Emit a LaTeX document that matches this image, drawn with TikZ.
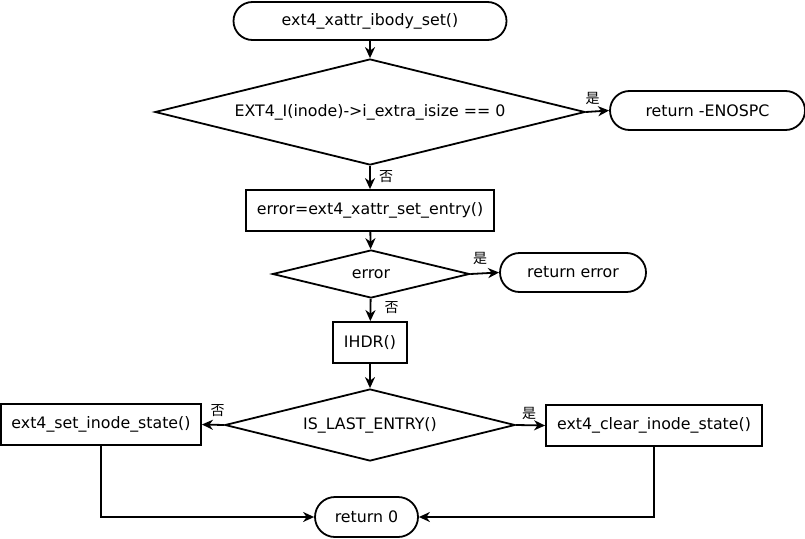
\documentclass[tikz,border=0pt]{standalone}
\usepackage{fontspec}
\setmainfont{DejaVu Sans}
\newfontfamily\cjk{Noto Sans CJK SC}
\usetikzlibrary{arrows.meta,shapes.geometric,shapes.misc}

\begin{document}
\begin{tikzpicture}[x=1pt,y=-1pt,>={Stealth[length=11pt,width=10pt,inset=3.5pt]},
    line width=1.8pt,font=\fontsize{15.8}{18}\selectfont,
    term/.style={draw,rounded rectangle,inner sep=0pt},
    proc/.style={draw,rectangle,inner sep=0pt},
    cond/.style={draw,diamond,aspect=4,inner sep=0pt},
    lbl/.style={inner sep=0pt,font=\cjk\fontsize{14}{16}\selectfont}]
    \useasboundingbox (0,0) rectangle (805,538);
    % main column
    \node[term,minimum width=273,minimum height=38] (start) at (370,21) {ext4\_xattr\_ibody\_set()};
    \node[cond,minimum width=430,minimum height=106] (isize) at (370,112) {EXT4\_I(inode)->i\_extra\_isize == 0};
    \node[term,minimum width=195,minimum height=39] (enospc) at (707.5,110.5) {return -ENOSPC};
    \node[proc,minimum width=248,minimum height=41] (setentry) at (370,210.5) {error=ext4\_xattr\_set\_entry()};
    \node[cond,minimum width=197,minimum height=48] (err) at (371,274) {error};
    \node[term,minimum width=146,minimum height=39] (reterr) at (573,272.5) {return error};
    \node[proc,minimum width=74,minimum height=41] (ihdr) at (370,342.5) {IHDR()};
    \node[cond,minimum width=290,minimum height=72] (last) at (370,425) {IS\_LAST\_ENTRY()};
    \node[proc,minimum width=200,minimum height=41] (setstate) at (101,424.5) {ext4\_set\_inode\_state()};
    \node[proc,minimum width=216,minimum height=41] (clrstate) at (654,425.5) {ext4\_clear\_inode\_state()};
    \node[term,minimum width=103,minimum height=40] (ret0) at (366.5,517) {return 0};
    % branch labels
    \node[lbl] (yes1) at (592.5,98) {是};
    \node[lbl] (no1) at (386,177) {否};
    \node[lbl] (yes2) at (480,258) {是};
    \node[lbl] (no2) at (391.5,308) {否};
    \node[lbl] (no3) at (217.5,411) {否};
    \node[lbl] (yes3) at (529,413) {是};
    % connectors
    \draw[->] (start) -- (isize);
    \draw[->] (isize.east) -- (enospc.west);
    \draw[->] (isize) -- (setentry);
    \draw[->] (setentry) -- (err);
    \draw[->] (err.east) -- (reterr.west);
    \draw[->] (err) -- (ihdr);
    \draw[->] (ihdr) -- (last);
    \draw[->] (last.west) -- (setstate.east);
    \draw[->] (last.east) -- (clrstate.west);
    \draw[->] (setstate.south) |- (ret0.west);
    \draw[->] (clrstate.south) |- (ret0.east);
  \end{tikzpicture}
\end{document}
